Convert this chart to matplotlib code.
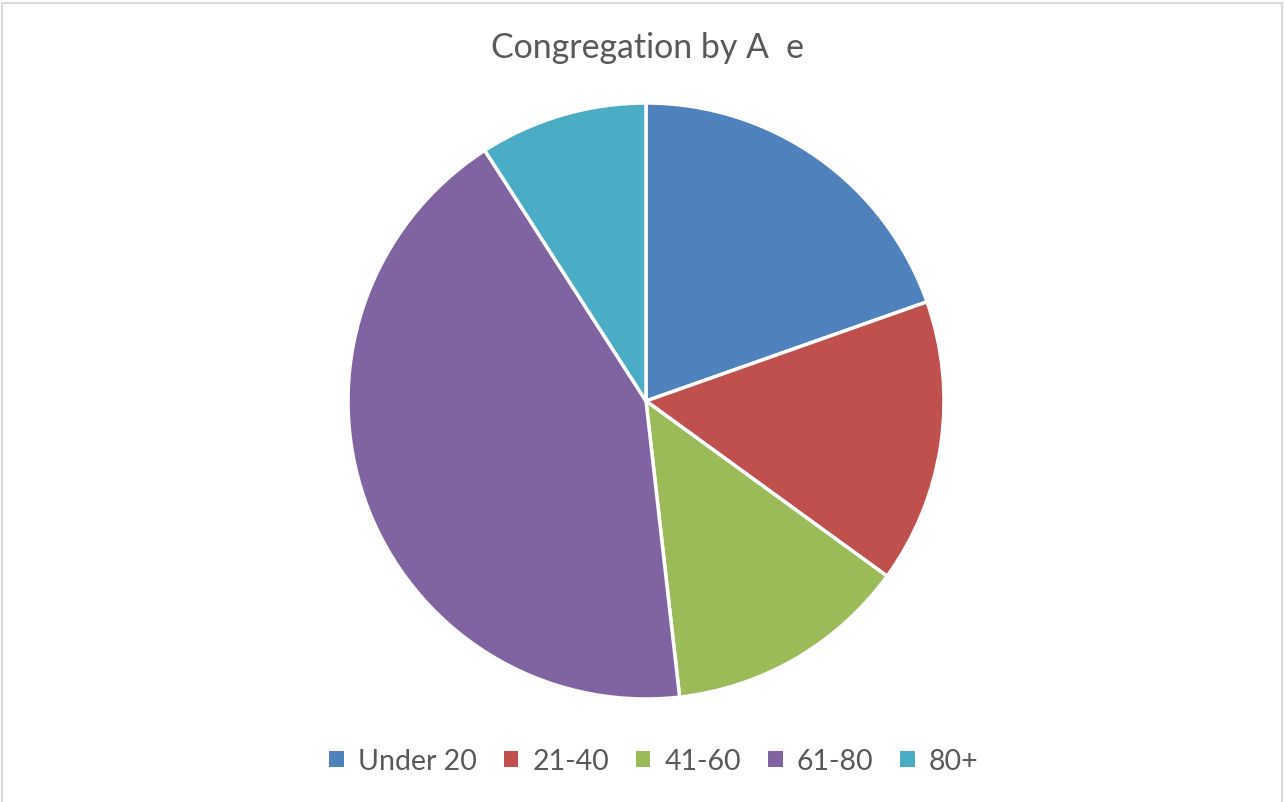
import matplotlib.pyplot as plt
from matplotlib.patches import Rectangle, Patch

labels = ['Under 20', '21-40', '41-60', '61-80', '80+']
values = [19.6, 15.4, 13.2, 42.7, 9.1]
colors = ['#4F81BD', '#C0504D', '#9BBB59', '#8064A2', '#4BACC6']

plt.rcParams['font.family'] = ['Lato', 'DejaVu Sans']

W, H = 1284, 803
fig = plt.figure(figsize=(W / 100, H / 100), dpi=100)

# chart frame
fig.patches.append(Rectangle((2 / W, -0.01), 1280 / W, 1 - 4 / H + 0.01,
                             transform=fig.transFigure, fill=False,
                             edgecolor='#D9D9D9', linewidth=1.5))

cx, cy, r = 646, 402, 298
ax = fig.add_axes([(cx - r) / W, (H - cy - r) / H, 2 * r / W, 2 * r / H])
wedges, _ = ax.pie(values, colors=colors, startangle=90, counterclock=False,
                   wedgeprops=dict(edgecolor='white', linewidth=2.5))
for w in wedges:
    w.set_clip_on(False)
ax.set_xlim(-1, 1)
ax.set_ylim(-1, 1)
ax.set_aspect('equal')

fig.text(648 / W, 1 - 48 / H, 'Congregation by A  e', ha='center', va='center',
         fontsize=24.4, color='#595959')

handles = [Patch(facecolor=c, edgecolor='none') for c in colors]
fig.legend(handles, labels, loc='center', bbox_to_anchor=(654 / W, 1 - 762 / H),
           ncol=5, frameon=False, fontsize=20.5, labelcolor='#595959',
           handlelength=0.5, handleheight=0.5, handletextpad=0.5,
           columnspacing=0.95)

fig.savefig('out.png', dpi=100)
